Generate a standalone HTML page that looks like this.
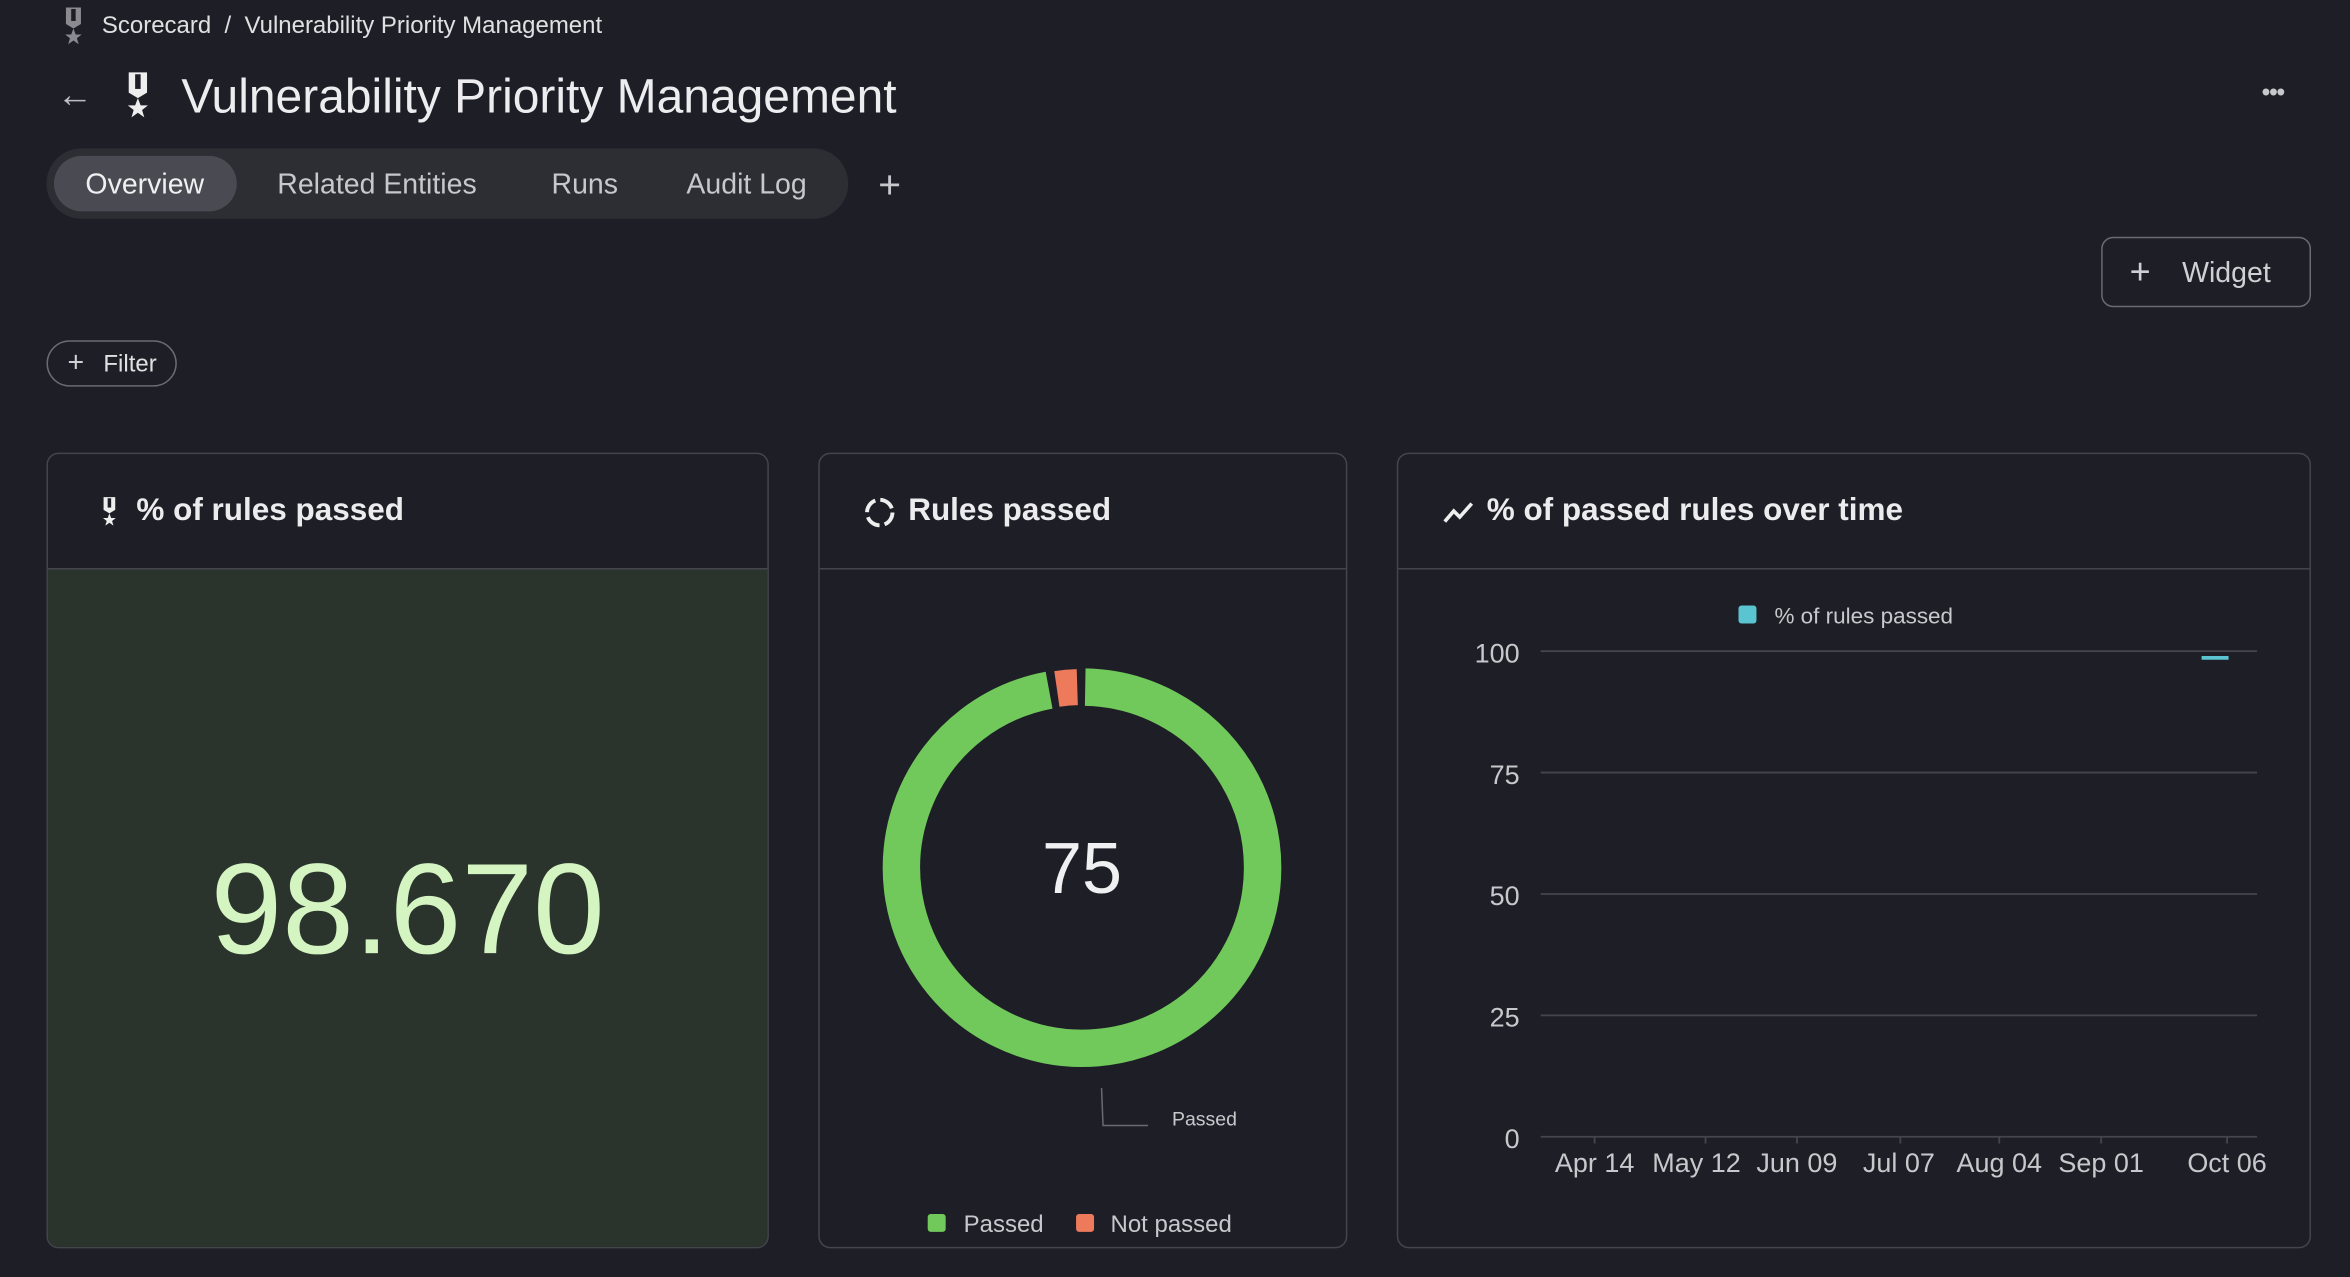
<!DOCTYPE html>
<html><head><meta charset="utf-8"><style>
html,body{margin:0;padding:0;background:#1e1e26;width:2350px;height:1276px;overflow:hidden}
#w{position:absolute;left:0;top:0;width:1568px;height:852px;transform:scale(1.4987);transform-origin:0 0;font-family:"Liberation Sans",sans-serif;color:#e6e6e8}
.a{position:absolute;white-space:nowrap}
.card{position:absolute;top:302px;height:531px;border:1px solid #45454c;border-radius:8px;box-sizing:border-box;overflow:hidden;background:#1e1e26}
.hd{position:absolute;left:0;right:0;top:0;height:76px;border-bottom:1px solid #45454c}
.ht{position:absolute;top:26px;font-size:21px;font-weight:bold;color:#ececee}
</style></head><body><div id="w">
<svg class="a" style="left:40px;top:4px" width="18" height="26" viewBox="0 0 18 26"><path d="M4 1h10v11l-5 3-5-3z" fill="#8a8a90"/><rect x="7.5" y="2" width="3" height="8" fill="#1e1e26"/><polygon points="9,15 10.5,19 14.5,19 11.3,21.5 12.5,25.5 9,23 5.5,25.5 6.7,21.5 3.5,19 7.5,19" fill="#8a8a90"/></svg>
<div class="a" style="left:68px;top:9px;font-size:16px;color:#e0e0e2">Scorecard&nbsp; / &nbsp;Vulnerability Priority Management</div>
<div class="a" style="left:38px;top:50px;font-size:24px;color:#bdbdc2">&#8592;</div>
<svg class="a" style="left:81px;top:47px" width="22" height="32" viewBox="0 0 18 26"><path d="M4 1h10v11l-5 3-5-3z" fill="#eee"/><rect x="7.5" y="2" width="3" height="8" fill="#1e1e26"/><polygon points="9,15 10.5,19 14.5,19 11.3,21.5 12.5,25.5 9,23 5.5,25.5 6.7,21.5 3.5,19 7.5,19" fill="#eee"/></svg>
<div class="a" style="left:121px;top:46px;font-size:32px;color:#ededf0">Vulnerability Priority Management</div>
<div class="a" style="left:1509px;top:52px;font-size:17px;color:#c8c8cc;letter-spacing:-1px">&#8226;&#8226;&#8226;</div>
<div class="a" style="left:31px;top:99px;width:535px;height:47px;border-radius:24px;background:#2d2d34"></div>
<div class="a" style="left:36px;top:104px;width:122px;height:37px;border-radius:19px;background:#4a4a52"></div>
<div class="a" style="left:57px;top:113px;font-size:19px;color:#f0f0f2">Overview</div>
<div class="a" style="left:185px;top:113px;font-size:19px;color:#c8c8cc">Related Entities</div>
<div class="a" style="left:368px;top:113px;font-size:19px;color:#c8c8cc">Runs</div>
<div class="a" style="left:458px;top:113px;font-size:19px;color:#c8c8cc">Audit Log</div>
<div class="a" style="left:586px;top:108px;font-size:26px;color:#c8c8cc">+</div>
<div class="a" style="left:1402px;top:158px;width:140px;height:47px;border:1px solid #6a6a70;border-radius:8px;box-sizing:border-box"></div>
<div class="a" style="left:1421px;top:168px;font-size:24px;color:#d0d0d4">+</div>
<div class="a" style="left:1456px;top:172px;font-size:19px;color:#d0d0d4">Widget</div>
<div class="a" style="left:31px;top:227px;width:87px;height:31px;border:1px solid #6a6a70;border-radius:16px;box-sizing:border-box"></div>
<div class="a" style="left:45px;top:232px;font-size:19px;color:#d0d0d4">+</div>
<div class="a" style="left:69px;top:235px;font-size:16px;color:#e0e0e2">Filter</div>

<div class="card" style="left:31px;width:482px">
 <div class="hd"></div>
 <svg class="a" style="left:34px;top:27px" width="14" height="22" viewBox="0 0 18 26"><path d="M4 1h10v11l-5 3-5-3z" fill="#eee"/><rect x="7.5" y="2" width="3" height="8" fill="#1e1e26"/><polygon points="9,15 10.5,19 14.5,19 11.3,21.5 12.5,25.5 9,23 5.5,25.5 6.7,21.5 3.5,19 7.5,19" fill="#eee"/></svg>
 <div class="ht" style="left:59px">% of rules passed</div>
 <div class="a" style="left:0;right:0;top:77px;bottom:0;background:#2a342c"></div>
 <div class="a" style="left:0;width:480px;top:255px;text-align:center;font-size:86px;color:#d4f5c2">98.670</div>
</div>

<div class="card" style="left:546px;width:353px">
 <div class="hd"></div>
 <svg class="a" style="left:29px;top:28px" width="22" height="22" viewBox="0 0 22 22"><circle cx="11" cy="11" r="8.5" fill="none" stroke="#eee" stroke-width="2.6" stroke-dasharray="10 3.4"/></svg>
 <div class="ht" style="left:59px">Rules passed</div>
</div>
<svg class="a" style="left:0;top:0" width="1568" height="852">
 <path d="M724.1 458.5 A120.5 120.5 0 1 1 700 460.5" fill="none" stroke="#70c95a" stroke-width="25"/>
 <path d="M705.2 459.7 A120.5 120.5 0 0 1 718.8 458.5" fill="none" stroke="#ee7a5c" stroke-width="24"/>
 <text x="722" y="596" text-anchor="middle" font-family="Liberation Sans" font-size="48" fill="#f0f0f2">75</text>
 <polyline points="735,726 736,751 766,751" fill="none" stroke="#6a6a70" stroke-width="1"/>
 <text x="782" y="751" font-family="Liberation Sans" font-size="13" fill="#c8c8cc">Passed</text>
 <rect x="619" y="810" width="12" height="12" rx="2" fill="#70c95a"/>
 <text x="643" y="822" font-family="Liberation Sans" font-size="16" fill="#c8c8cc">Passed</text>
 <rect x="718" y="810" width="12" height="12" rx="2" fill="#ee7a5c"/>
 <text x="741" y="822" font-family="Liberation Sans" font-size="16" fill="#c8c8cc">Not passed</text>
</svg>

<div class="card" style="left:932px;width:610px">
 <div class="hd"></div>
 <svg class="a" style="left:29px;top:29px" width="22" height="20" viewBox="0 0 22 20"><polyline points="2,16 8,9 12,13 20,4" fill="none" stroke="#eee" stroke-width="2.4"/></svg>
 <div class="ht" style="left:59px">% of passed rules over time</div>
</div>
<svg class="a" style="left:0;top:0" width="1568" height="852" font-family="Liberation Sans">
 <rect x="1160" y="404" width="12" height="12" rx="2" fill="#5bc4d1"/>
 <text x="1184" y="416" font-size="15" fill="#c8c8cc">% of rules passed</text>
 <g stroke="#45454c" stroke-width="1.2">
 <line x1="1028" y1="434.5" x2="1506" y2="434.5"/><line x1="1028" y1="515.5" x2="1506" y2="515.5"/><line x1="1028" y1="596.5" x2="1506" y2="596.5"/><line x1="1028" y1="677.5" x2="1506" y2="677.5"/><line x1="1028" y1="758.5" x2="1506" y2="758.5"/>
 <line x1="1064" y1="758" x2="1064" y2="763"/><line x1="1138" y1="758" x2="1138" y2="763"/><line x1="1199" y1="758" x2="1199" y2="763"/><line x1="1268" y1="758" x2="1268" y2="763"/><line x1="1334" y1="758" x2="1334" y2="763"/><line x1="1402" y1="758" x2="1402" y2="763"/><line x1="1486" y1="758" x2="1486" y2="763"/>
 </g>
 <line x1="1469" y1="439" x2="1487" y2="439" stroke="#5bc4d1" stroke-width="2.5"/>
 <g font-size="18" fill="#c8c8cc" text-anchor="end">
 <text x="1014" y="442">100</text><text x="1014" y="523">75</text><text x="1014" y="604">50</text><text x="1014" y="685">25</text><text x="1014" y="766">0</text>
 </g>
 <g font-size="18" fill="#c8c8cc" text-anchor="middle">
 <text x="1064" y="782">Apr 14</text><text x="1132" y="782">May 12</text><text x="1199" y="782">Jun 09</text><text x="1267" y="782">Jul 07</text><text x="1334" y="782">Aug 04</text><text x="1402" y="782">Sep 01</text><text x="1486" y="782">Oct 06</text>
 </g>
</svg>
</div></body></html>
